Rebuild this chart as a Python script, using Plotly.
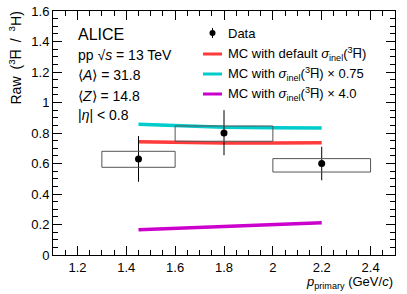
import plotly.graph_objects as go

# Data
p_data = [1.45, 1.8, 2.2]
raw_data = [0.63, 0.80, 0.60]
stat_up = [0.15, 0.15, 0.11]
stat_down = [0.15, 0.146, 0.11]
sys_xlo = [1.3, 1.6, 2.0]
sys_xhi = [1.6, 2.0, 2.4]
sys_ylo = [0.575, 0.746, 0.544]
sys_yhi = [0.68, 0.846, 0.632]

p_mc = [1.45, 1.6, 1.8, 2.0, 2.2]
mc_default = [0.743, 0.738, 0.734, 0.734, 0.736]
mc_075 = [0.857, 0.846, 0.837, 0.834, 0.833]
mc_4 = [0.166, 0.176, 0.188, 0.200, 0.212]

FONT = "Liberation Sans, Arial, sans-serif"
RED = "#ff3b3b"
CYAN = "#00cccc"
MAG = "#cc00cc"

fig = go.Figure()

fig.add_trace(go.Scatter(x=p_mc, y=mc_default, mode="lines",
                         line=dict(color=RED, width=3.5), showlegend=False))
fig.add_trace(go.Scatter(x=p_mc, y=mc_075, mode="lines",
                         line=dict(color=CYAN, width=3.5), showlegend=False))
fig.add_trace(go.Scatter(x=p_mc, y=mc_4, mode="lines",
                         line=dict(color=MAG, width=3.5), showlegend=False))

for xl, xh, yl, yh in zip(sys_xlo, sys_xhi, sys_ylo, sys_yhi):
    fig.add_shape(type="rect", xref="x", yref="y", x0=xl, x1=xh, y0=yl, y1=yh,
                  line=dict(color="#555555", width=1), fillcolor="rgba(0,0,0,0)")

fig.add_trace(go.Scatter(x=p_data, y=raw_data, mode="markers",
                         marker=dict(color="black", size=7),
                         error_y=dict(type="data", symmetric=False, array=stat_up,
                                      arrayminus=stat_down, color="black",
                                      thickness=1, width=0),
                         showlegend=False))

axis_common = dict(showline=True, linecolor="black", linewidth=1, mirror="ticks",
                   ticks="inside", ticklen=9, tickcolor="black", tickwidth=1,
                   showgrid=False, zeroline=False, automargin=False,
                   ticklabeloverflow="allow",
                   tickfont=dict(family=FONT, size=13, color="black"))

fig.update_xaxes(range=[1.1, 2.5], dtick=0.2, tick0=1.2,
                 minor=dict(ticks="inside", ticklen=5, dtick=0.05, tick0=1.2,
                            tickcolor="black", showgrid=False),
                 **axis_common)
fig.update_yaxes(range=[0, 1.6], dtick=0.2, tick0=0,
                 minor=dict(ticks="inside", ticklen=5, dtick=0.05, tick0=0,
                            tickcolor="black", showgrid=False),
                 tickformat="~g",
                 **axis_common)

W, H = 407, 294
ml, mr, mt, mb = 53, 12, 11, 39
pw = W - ml - mr
ph = H - mt - mb

def px(xp):
    return (xp - ml) / pw

def py(yp):
    return (H - mb - yp) / ph

SP = "\u2002"
ann = []
ann.append(dict(text="Raw" + SP + "(<sup>3</sup>H\u0305" + SP + "/" + SP + "<sup>3</sup>H)",
                textangle=-90,
                xref="paper", yref="paper", x=px(4), y=py(10),
                xanchor="left", yanchor="top", showarrow=False,
                font=dict(family=FONT, size=14, color="black")))
ann.append(dict(text="<i>p</i><sub>primary</sub> (GeV/<i>c</i>)",
                xref="paper", yref="paper", x=1.0, y=py(272),
                xanchor="right", yanchor="top", showarrow=False,
                font=dict(family=FONT, size=13, color="black")))
ann.append(dict(text="ALICE", xref="paper", yref="paper", x=px(76), y=py(34),
                xanchor="left", yanchor="middle", showarrow=False,
                font=dict(family=FONT, size=16, color="black")))
info = ["pp \u221A<i>s</i> = 13 TeV",
        "\u27E8<i>A</i>\u27E9 = 31.8",
        "\u27E8<i>Z</i>\u27E9 = 14.8",
        "|<i>\u03B7</i>| < 0.8"]
info_y = [55, 75, 96, 115]
for t, yy in zip(info, info_y):
    ann.append(dict(text=t, xref="paper", yref="paper", x=px(76), y=py(yy),
                    xanchor="left", yanchor="middle", showarrow=False,
                    font=dict(family=FONT, size=14, color="black")))

leg_labels = ["Data",
              "MC with default <i>\u03C3</i><sub>inel</sub>(<sup>3</sup>H\u0305)",
              "MC with <i>\u03C3</i><sub>inel</sub>(<sup>3</sup>H\u0305) \u00D7 0.75",
              "MC with <i>\u03C3</i><sub>inel</sub>(<sup>3</sup>H\u0305) \u00D7 4.0"]
leg_y = [33, 54, 74, 94]
leg_col = [None, RED, CYAN, MAG]
for lab, yy, col in zip(leg_labels, leg_y, leg_col):
    ann.append(dict(text=lab, xref="paper", yref="paper", x=px(226), y=py(yy),
                    xanchor="left", yanchor="middle", showarrow=False,
                    font=dict(family=FONT, size=13, color="black")))
    if col is not None:
        fig.add_shape(type="line", xref="paper", yref="paper",
                      x0=px(203), x1=px(222), y0=py(yy), y1=py(yy),
                      line=dict(color=col, width=3))
    else:
        fig.add_shape(type="line", xref="paper", yref="paper",
                      x0=px(212.5), x1=px(212.5), y0=py(yy - 5), y1=py(yy + 5),
                      line=dict(color="black", width=1))
        fig.add_shape(type="circle", xref="paper", yref="paper",
                      x0=px(209.5), x1=px(215.5), y0=py(yy - 3), y1=py(yy + 3),
                      line=dict(color="black", width=0), fillcolor="black")

fig.update_layout(width=W, height=H,
                  margin=dict(l=ml, r=mr, t=mt, b=mb, autoexpand=False),
                  plot_bgcolor="white", paper_bgcolor="white",
                  annotations=ann, showlegend=False,
                  font=dict(family=FONT, color="black"))

fig.write_html("out.html",
               config={"displayModeBar": False},
               post_script="document.body.style.margin='0px';"
                           "document.body.style.overflow='hidden';")
